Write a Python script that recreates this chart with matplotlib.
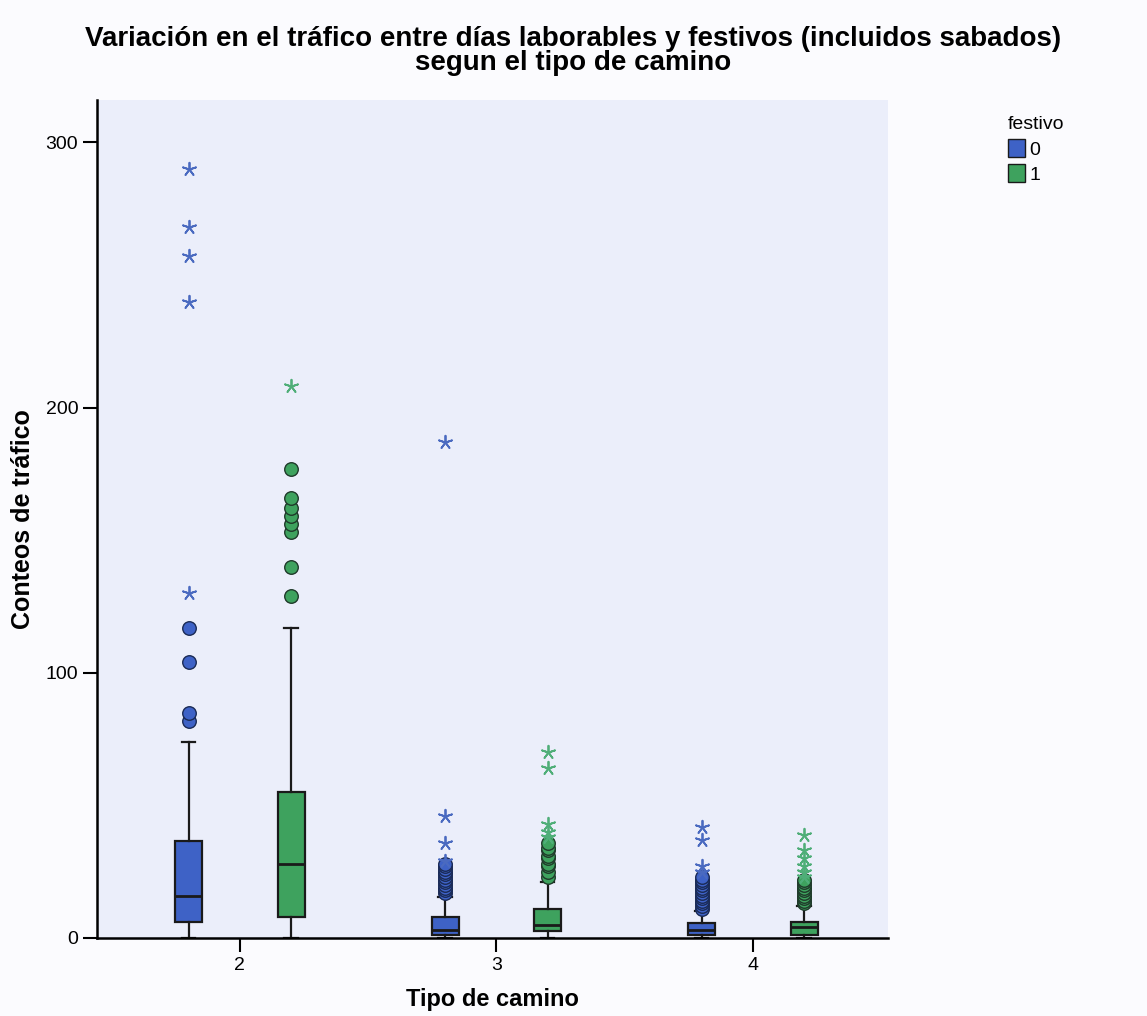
import matplotlib.pyplot as plt
from matplotlib.patches import Patch

plt.rcParams['font.family'] = ['Liberation Sans', 'DejaVu Sans']

# tipo de camino / festivo groups
tipos = [2, 3, 4]
festivo = [0, 1]
offset = 0.2

# box stats, order: (2,0),(2,1),(3,0),(3,1),(4,0),(4,1)
q1 = [6, 8, 1, 2.5, 1, 1]
med = [16, 28, 3, 5, 3, 4]
q3 = [36.5, 55, 8, 11, 5.5, 6]
whislo = [0, 0, 0, 0, 0, 0]
whishi = [74, 117, 15.5, 21, 10, 12]

# outliers (circles)
outliers = [
    [82, 85, 104, 117],
    [129, 140, 153, 156, 159, 162, 166, 177],
    [17, 18, 19, 20, 21, 22, 23, 24, 25, 26, 27, 28],
    [23, 25, 27, 28, 30, 31, 33, 34, 36],
    [11, 12, 13, 14, 15, 16, 17, 18, 19, 20, 21, 22, 23],
    [13, 14, 15, 16, 17, 18, 19, 20, 21, 22],
]
# extremes (asterisks)
extremos = [
    [130, 240, 257, 268, 290],
    [208],
    [29, 36, 46, 187],
    [38, 40, 43, 64, 70],
    [25, 27, 37, 42],
    [23, 25, 27, 30, 33, 39],
]

azul = '#3e62c6'
verde = '#3ea25e'
colores = [azul, verde]
estrella = ['#4a6ac0', '#4fae78']

fig = plt.figure(figsize=(11.47, 10.16), dpi=100)
fig.patch.set_facecolor('#fbfbfe')
ax = fig.add_axes([0.0846, 0.0768, 0.6894, 0.8248])
ax.set_facecolor('#ebeefa')

stats = []
pos = []
cols = []
i = 0
for t in tipos:
    for k, f in enumerate(festivo):
        stats.append(dict(med=med[i], q1=q1[i], q3=q3[i], whislo=whislo[i],
                          whishi=whishi[i], fliers=[]))
        pos.append(t + (-offset if f == 0 else offset))
        cols.append(k)
        i += 1

bp = ax.bxp(stats, positions=pos, widths=0.105, patch_artist=True,
            showfliers=False, manage_ticks=False,
            boxprops=dict(edgecolor='#1a1a1a', linewidth=1.6),
            medianprops=dict(color='#1a1a1a', linewidth=2),
            whiskerprops=dict(color='#1a1a1a', linewidth=1.6),
            capprops=dict(color='#1a1a1a', linewidth=1.6))
for b, k in zip(bp['boxes'], cols):
    b.set_facecolor(colores[k])

for p, k, o, e in zip(pos, cols, outliers, extremos):
    ax.scatter([p] * len(o), o, s=95, color=colores[k],
               edgecolor='#1f3a2a' if k == 1 else '#1a2a55', linewidth=1, zorder=3)
    ax.scatter([p] * len(e), e, s=95, marker=(5, 2, 0), color=estrella[k],
               linewidth=1.3, zorder=3)

ax.set_xlim(1.443, 4.526)
ax.set_ylim(0, 316)
ax.set_xticks(tipos)
ax.set_xticklabels([str(t) for t in tipos])
ax.set_yticks([0, 100, 200, 300])
ax.tick_params(axis='both', direction='out', length=10, width=1.5, labelsize=14)
for s in ['left', 'bottom']:
    ax.spines[s].set_linewidth(1.8)
for s in ['top', 'right']:
    ax.spines[s].set_visible(False)

ax.set_xlabel('Tipo de camino', fontsize=17, fontweight='bold', labelpad=10)
ax.set_ylabel('Conteos de tráfico', fontsize=18, fontweight='bold', labelpad=8)

fig.text(0.5, 0.974, 'Variación en el tráfico entre días laborables y festivos (incluidos sabados)\nsegun el tipo de camino',
         ha='center', va='top', fontsize=20, fontweight='bold', linespacing=0.9)

handles = [Patch(facecolor=azul, edgecolor='#1a1a1a', label='0'),
           Patch(facecolor=verde, edgecolor='#1a1a1a', label='1')]
fig.legend(handles=handles, title='festivo', loc='upper left', bbox_to_anchor=(0.87, 0.895),
           frameon=False, fontsize=14, title_fontsize=14, handlelength=0.9, handleheight=1.0,
           handletextpad=0.2, labelspacing=0.3, borderpad=0, alignment='left')

fig.savefig('out.png')
